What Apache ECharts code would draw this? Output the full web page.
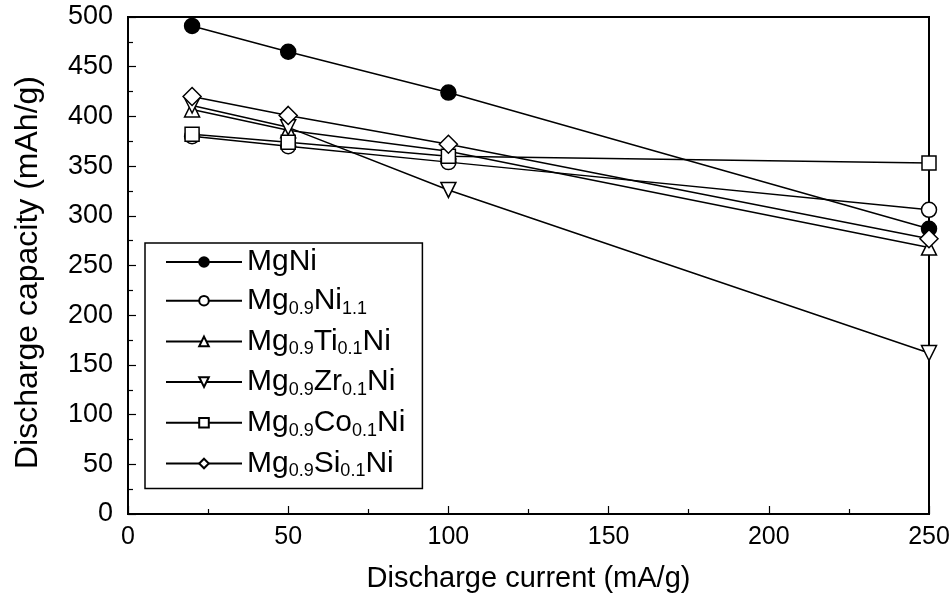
<!DOCTYPE html>
<html>
<head>
<meta charset="utf-8">
<script src="https://cdn.jsdelivr.net/npm/echarts@6/dist/echarts.min.js"></script>
<style>
  html, body { margin: 0; padding: 0; background: #fff; }
  #main { width: 949px; height: 597px; }
</style>
</head>
<body>
<div id="main"></div>
<script>
// discharge current (mA/g)
var currents = [20, 50, 100, 250];
// discharge capacity (mAh/g)
var mgNi = [491, 465, 424, 287];
var mg09Ni11 = [380, 370, 354, 306];
var mg09Ti01Ni = [407, 386, 365, 268];
var mg09Zr01Ni = [411, 389, 326, 162];
var mg09Co01Ni = [382, 374, 360, 353];
var mg09Si01Ni = [420, 401, 372, 277];

var seriesNames = ['MgNi', 'Mg0.9Ni1.1', 'Mg0.9Ti0.1Ni', 'Mg0.9Zr0.1Ni', 'Mg0.9Co0.1Ni', 'Mg0.9Si0.1Ni'];
// legend labels with subscripts
var legendLabels = {
  'MgNi': '{b|MgNi}',
  'Mg0.9Ni1.1': '{b|Mg}{s|0.9}{b|Ni}{s|1.1}',
  'Mg0.9Ti0.1Ni': '{b|Mg}{s|0.9}{b|Ti}{s|0.1}{b|Ni}',
  'Mg0.9Zr0.1Ni': '{b|Mg}{s|0.9}{b|Zr}{s|0.1}{b|Ni}',
  'Mg0.9Co0.1Ni': '{b|Mg}{s|0.9}{b|Co}{s|0.1}{b|Ni}',
  'Mg0.9Si0.1Ni': '{b|Mg}{s|0.9}{b|Si}{s|0.1}{b|Ni}'
};

var font = 'Liberation Sans, Arial, sans-serif';

function pairs(ys) {
  return currents.map(function (x, i) { return [x, ys[i]]; });
}

function makeSeries(name, ys, symbol, size, filled, rotate) {
  return {
    name: name,
    type: 'line',
    data: pairs(ys),
    symbol: symbol,
    symbolSize: size,
    symbolRotate: rotate || 0,
    showAllSymbol: true,
    lineStyle: { color: '#000', width: 1.5 },
    itemStyle: { color: filled ? '#000' : '#fff', borderColor: '#000', borderWidth: 1.5 },
    emphasis: { disabled: true },
    z: 3
  };
}

var chart = echarts.init(document.getElementById('main'), null, { renderer: 'canvas' });

var option = {
  backgroundColor: '#fff',
  animation: false,
  grid: {
    left: 128,
    right: 20,
    top: 17,
    bottom: 83,
    outerBoundsMode: 'none',
    show: true,
    borderColor: '#000',
    borderWidth: 2
  },
  legend: {
    data: seriesNames,
    orient: 'vertical',
    left: 145,
    top: 243,
    itemWidth: 76,
    itemHeight: 12,
    itemGap: 8.7,
    padding: [4, 17, 8, 20],
    borderColor: '#000',
    borderWidth: 1.5,
    backgroundColor: '#fff',
    selectedMode: false,
    formatter: function (name) { return legendLabels[name]; },
    textStyle: {
      color: '#000',
      fontFamily: font,
      rich: {
        b: { fontSize: 30, lineHeight: 34, color: '#000', fontFamily: font },
        s: { fontSize: 18, lineHeight: 4, verticalAlign: 'bottom', color: '#000', fontFamily: font }
      }
    }
  },
  xAxis: {
    type: 'value',
    min: 0,
    max: 250,
    interval: 50,
    name: 'Discharge current (mA/g)',
    nameLocation: 'middle',
    nameGap: 50,
    nameTextStyle: { fontSize: 29, color: '#000', fontFamily: font },
    axisLine: { show: true, lineStyle: { color: '#000', width: 1.5 } },
    axisTick: { inside: true, length: 8, lineStyle: { color: '#000', width: 1.2 } },
    minorTick: { show: true, splitNumber: 2, length: 5, lineStyle: { color: '#000', width: 1.2 } },
    axisLabel: { fontSize: 25, color: '#000', fontFamily: font, margin: 11 },
    splitLine: { show: false }
  },
  yAxis: {
    type: 'value',
    min: 0,
    max: 500,
    interval: 50,
    name: 'Discharge capacity (mAh/g)',
    nameLocation: 'middle',
    nameGap: 84,
    nameTextStyle: { fontSize: 32, color: '#000', fontFamily: font, padding: [0, 14, 0, 0] },
    axisLine: { show: true, lineStyle: { color: '#000', width: 1.5 } },
    axisTick: { inside: true, length: 8, lineStyle: { color: '#000', width: 1.2 } },
    minorTick: { show: true, splitNumber: 2, length: 5, lineStyle: { color: '#000', width: 1.2 } },
    axisLabel: { fontSize: 27, color: '#000', fontFamily: font, margin: 15 },
    splitLine: { show: false }
  },
  series: [
    makeSeries('MgNi', mgNi, 'circle', 15, true),
    makeSeries('Mg0.9Ni1.1', mg09Ni11, 'circle', 15, false),
    makeSeries('Mg0.9Ti0.1Ni', mg09Ti01Ni, 'triangle', 15, false),
    makeSeries('Mg0.9Zr0.1Ni', mg09Zr01Ni, 'triangle', 15, false, 180),
    makeSeries('Mg0.9Co0.1Ni', mg09Co01Ni, 'rect', 14, false),
    makeSeries('Mg0.9Si0.1Ni', mg09Si01Ni, 'diamond', 18, false)
  ]
};

chart.setOption(option);
</script>
</body>
</html>
